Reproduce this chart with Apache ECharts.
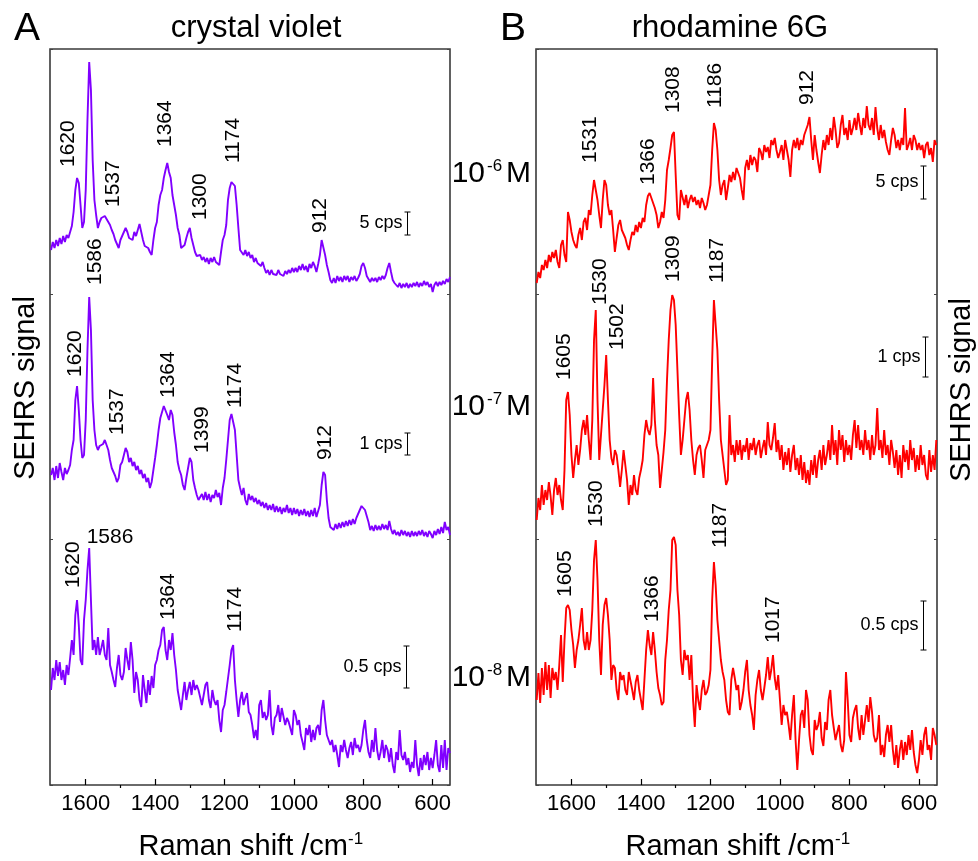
<!DOCTYPE html>
<html>
<head>
<meta charset="utf-8">
<script src="https://cdn.jsdelivr.net/npm/echarts@6/dist/echarts.min.js"></script>
<style>
  html, body { margin: 0; background: #fff; }
  #chart { width: 978px; height: 861px; }
</style>
</head>
<body>
<div id="chart"></div>
<script>
// Raman shift grid (cm-1), shared by all six spectra
const shifts = [
  1700, 1695, 1690, 1685, 1680, 1675, 1670, 1665, 1660, 1655,
  1650, 1645, 1640, 1635, 1630, 1625, 1620, 1615, 1610, 1605,
  1600, 1595, 1590, 1585, 1580, 1575, 1570, 1565, 1560, 1555,
  1550, 1545, 1540, 1535, 1530, 1525, 1520, 1515, 1510, 1505,
  1500, 1495, 1490, 1485, 1480, 1475, 1470, 1465, 1460, 1455,
  1450, 1445, 1440, 1435, 1430, 1425, 1420, 1415, 1410, 1405,
  1400, 1395, 1390, 1385, 1380, 1375, 1370, 1365, 1360, 1355,
  1350, 1345, 1340, 1335, 1330, 1325, 1320, 1315, 1310, 1305,
  1300, 1295, 1290, 1285, 1280, 1275, 1270, 1265, 1260, 1255,
  1250, 1245, 1240, 1235, 1230, 1225, 1220, 1215, 1210, 1205,
  1200, 1195, 1190, 1185, 1180, 1175, 1170, 1165, 1160, 1155,
  1150, 1145, 1140, 1135, 1130, 1125, 1120, 1115, 1110, 1105,
  1100, 1095, 1090, 1085, 1080, 1075, 1070, 1065, 1060, 1055,
  1050, 1045, 1040, 1035, 1030, 1025, 1020, 1015, 1010, 1005,
  1000, 995, 990, 985, 980, 975, 970, 965, 960, 955,
  950, 945, 940, 935, 930, 925, 920, 915, 910, 905,
  900, 895, 890, 885, 880, 875, 870, 865, 860, 855,
  850, 845, 840, 835, 830, 825, 820, 815, 810, 805,
  800, 795, 790, 785, 780, 775, 770, 765, 760, 755,
  750, 745, 740, 735, 730, 725, 720, 715, 710, 705,
  700, 695, 690, 685, 680, 675, 670, 665, 660, 655,
  650, 645, 640, 635, 630, 625, 620, 615, 610, 605,
  600, 595, 590, 585, 580, 575, 570, 565, 560, 555,
  550
];

// crystal violet, 10-6 / 10-7 / 10-8 M (arbitrary units, each above its own baseline)
const cvTop = [
  50, 58, 52, 60, 54, 62, 56, 64, 58, 65,
  62, 68, 74, 88, 110, 122, 117, 95, 72, 78,
  110, 180, 238, 210, 140, 100, 85, 72, 78, 82,
  80, 84, 86, 78, 75, 70, 66, 60, 56, 52,
  60, 64, 68, 72, 68, 62, 64, 60, 68, 64,
  70, 76, 68, 60, 54, 56, 52, 48, 45, 60,
  72, 78, 95, 105, 110, 122, 130, 137, 128, 122,
  105, 95, 85, 72, 65, 52, 50, 55, 62, 68,
  72, 62, 55, 48, 44, 42, 45, 40, 43, 38,
  42, 36, 42, 38, 43, 38, 40, 35, 48, 60,
  65, 75, 100, 112, 118, 120, 114, 95, 72, 50,
  50, 45, 50, 44, 48, 42, 45, 38, 42, 37,
  38, 34, 38, 32, 27, 30, 25, 30, 26, 28,
  25, 30, 26, 28, 24, 29, 26, 30, 27, 32,
  28, 32, 28, 34, 30, 36, 30, 34, 28, 36,
  32, 38, 34, 28, 36, 45, 60, 60, 45, 35,
  28, 20, 17, 22, 17, 24, 19, 23, 18, 24,
  20, 24, 18, 23, 20, 24, 19, 22, 26, 34,
  37, 32, 24, 21, 18, 22, 19, 22, 18, 23,
  20, 24, 21, 25, 32, 37, 28, 20, 17, 15,
  13, 17, 12, 16, 13, 17, 12, 16, 13, 17,
  14, 18, 13, 17, 14, 19, 15, 18, 13, 16,
  8, 15, 18, 14, 18, 15, 19, 16, 21, 18,
  23
];
const cvMid = [
  65, 72, 60, 74, 62, 77, 68, 60, 72, 66,
  70, 75, 90, 100, 140, 154, 130, 100, 82, 85,
  120, 190, 243, 210, 140, 110, 95, 90, 94, 92,
  96, 100, 102, 90, 80, 72, 68, 64, 58, 62,
  75, 78, 85, 92, 88, 78, 82, 74, 78, 70,
  74, 66, 70, 62, 66, 58, 62, 52, 58, 70,
  82, 95, 110, 122, 128, 134, 132, 125, 120, 130,
  125, 108, 95, 78, 70, 65, 55, 50, 62, 72,
  82, 78, 60, 52, 45, 40, 38, 46, 40, 48,
  40, 46, 38, 45, 42, 50, 43, 47, 35, 52,
  62, 80, 100, 120, 126, 126, 110, 85, 60, 52,
  45, 52, 40, 35, 46, 40, 44, 38, 42, 36,
  40, 34, 38, 32, 37, 30, 35, 30, 36, 28,
  34, 28, 33, 26, 32, 28, 35, 27, 32, 25,
  32, 26, 31, 24, 30, 25, 31, 24, 29, 23,
  30, 24, 32, 23, 22, 35, 55, 68, 65, 40,
  22, 13, 15, 10, 16, 11, 17, 12, 18, 13,
  19, 14, 20, 15, 21, 16, 22, 26, 30, 34,
  33, 30, 24, 18, 10, 14, 9, 15, 10, 14,
  10, 16, 11, 15, 10, 19, 11, 6, 10, 5,
  8, 4, 10, 5, 9, 4, 8, 3, 9, 4,
  8, 4, 9, 5, 10, 4, 8, 3, 9, 6,
  2, 9, 5, 11, 6, 13, 7, 18, 10, 13,
  5
];
const cvBot = [
  95, 117, 105, 125, 109, 123, 105, 115, 100, 120,
  110, 127, 145, 130, 170, 185, 160, 125, 120, 165,
  185, 215, 237, 185, 135, 145, 130, 148, 130, 137,
  145, 130, 125, 157, 120, 113, 105, 98, 117, 130,
  110, 105, 113, 137, 125, 115, 143, 125, 92, 113,
  105, 85, 78, 110, 95, 82, 105, 90, 109, 97,
  120, 125, 135, 140, 155, 158, 135, 125, 145, 135,
  152, 130, 115, 95, 85, 75, 90, 103, 85, 95,
  103, 90, 105, 95, 100, 95, 97, 80, 90, 100,
  103, 85, 77, 95, 85, 80, 85, 65, 53, 75,
  80, 93, 95, 120, 135, 140, 105, 85, 68, 85,
  93, 80, 87, 92, 73, 70, 60, 47, 55, 45,
  80, 85, 67, 73, 65, 70, 95, 60, 50, 67,
  70, 80, 63, 77, 75, 60, 67, 63, 65, 50,
  75, 70, 60, 65, 50, 43, 35, 57, 50, 60,
  43, 55, 45, 57, 60, 50, 75, 85, 65, 50,
  52, 40, 45, 33, 40, 30, 18, 40, 33, 45,
  35, 27, 37, 43, 30, 47, 37, 40, 33, 40,
  55, 65, 45, 33, 27, 45, 33, 57, 35, 25,
  33, 45, 27, 40, 35, 23, 37, 20, 12, 33,
  25, 55, 30, 25, 33, 20, 27, 13, 23, 17,
  45, 20, 9, 27, 15, 30, 20, 33, 15, 27,
  17, 30, 45, 20, 13, 40, 17, 45, 15, 37,
  32
];

// rhodamine 6G, 10-6 / 10-7 / 10-8 M
const r6gTop = [
  17, 28, 22, 35, 30, 40, 32, 45, 38, 48,
  42, 50, 38, 32, 55, 60, 45, 38, 88, 80,
  68, 60, 55, 52, 65, 72, 60, 78, 82, 70,
  90, 85, 105, 120, 122, 100, 85, 72, 100, 120,
  115, 95, 85, 90, 70, 48, 62, 75, 80, 70,
  70, 62, 55, 50, 60, 68, 65, 75, 68, 78,
  72, 82, 78, 95, 104, 107, 102, 100, 92, 85,
  72, 78, 88, 82, 100, 130, 140, 152, 165, 168,
  125, 85, 80, 110, 108, 95, 105, 92, 100, 105,
  98, 103, 95, 100, 92, 102, 97, 90, 95, 105,
  115, 150, 177, 170, 150, 120, 105, 115, 120, 100,
  112, 125, 118, 128, 120, 132, 130, 122, 110, 100,
  132, 140, 130, 145, 135, 143, 140, 128, 152, 148,
  140, 155, 148, 153, 142, 160, 155, 162, 150, 142,
  148, 155, 140, 160, 150, 140, 123, 150, 160, 152,
  162, 150, 160, 155, 165, 170, 175, 183, 160, 140,
  165, 150, 138, 127, 145, 160, 150, 165, 155, 172,
  160, 183, 170, 152, 157, 175, 185, 165, 172, 160,
  180, 165, 172, 182, 170, 187, 175, 165, 182, 172,
  194, 175, 170, 182, 165, 193, 172, 160, 175, 162,
  170, 158, 150, 145, 160, 172, 165, 152, 160, 150,
  162, 155, 192, 150, 155, 162, 150, 165, 160, 150,
  157, 150, 155, 142, 155, 158, 145, 152, 138, 160,
  155
];
const r6gMid = [
  20, 42, 30, 55, 35, 50, 40, 58, 44, 25,
  50, 62, 45, 55, 40, 30, 70, 140, 148, 125,
  85, 62, 80, 95, 75, 90, 110, 120, 105, 125,
  100, 80, 120, 200, 230, 140, 80, 105, 130, 155,
  185, 140, 100, 82, 75, 90, 85, 70, 53, 70,
  90, 75, 60, 35, 55, 45, 65, 50, 45, 62,
  70, 80, 105, 120, 110, 105, 115, 162, 120, 95,
  85, 52, 70, 88, 110, 160, 200, 230, 245, 240,
  215, 170, 125, 85, 100, 120, 140, 148, 130, 100,
  80, 65, 85, 92, 95, 80, 62, 90, 95, 100,
  110, 180, 240, 242, 190, 140, 100, 85, 70, 55,
  60, 125, 85, 95, 78, 100, 85, 100, 80, 95,
  88, 102, 80, 97, 90, 102, 85, 95, 100, 82,
  92, 100, 85, 118, 95, 90, 102, 117, 88, 100,
  80, 95, 70, 88, 75, 92, 68, 85, 95, 70,
  82, 65, 85, 60, 78, 57, 70, 55, 80, 65,
  85, 62, 80, 90, 70, 95, 75, 85, 100, 80,
  115, 85, 100, 75, 110, 90, 105, 78, 100, 85,
  95, 80, 105, 120, 92, 115, 90, 100, 85, 110,
  90, 100, 80, 105, 85, 95, 132, 90, 100, 82,
  110, 85, 95, 75, 100, 88, 72, 90, 65, 85,
  62, 95, 78, 90, 70, 100, 80, 92, 68, 85,
  70, 95, 75, 85, 65, 60, 90, 68, 85, 70,
  100
];
const r6gBot = [
  85, 112, 82, 117, 90, 123, 95, 120, 87, 117,
  105, 113, 95, 120, 150, 103, 145, 177, 180, 175,
  155, 140, 117, 135, 145, 160, 177, 145, 135, 153,
  135, 145, 175, 225, 245, 205, 145, 110, 160, 180,
  187, 170, 145, 105, 120, 117, 95, 85, 113, 105,
  110, 95, 90, 113, 115, 95, 85, 103, 110, 95,
  93, 75, 105, 135, 155, 140, 130, 153, 135, 113,
  97, 90, 80, 83, 125, 145, 175, 195, 245, 248,
  240, 195, 170, 125, 110, 135, 125, 130, 105, 130,
  85, 58, 100, 85, 75, 95, 105, 90, 93, 100,
  115, 185, 223, 200, 165, 145, 125, 113, 105, 85,
  73, 70, 105, 117, 107, 95, 100, 75, 83, 95,
  113, 125, 95, 80, 70, 55, 90, 105, 115, 95,
  85, 97, 110, 128, 105, 115, 130, 107, 95, 110,
  85, 60, 80, 70, 73, 60, 45, 70, 90, 45,
  15, 45, 70, 75, 57, 95, 85, 50, 35, 30,
  65, 55, 60, 73, 47, 39, 63, 55, 85, 95,
  70, 57, 45, 53, 60, 40, 33, 45, 113, 85,
  50, 43, 67, 75, 80, 57, 45, 70, 50, 65,
  80, 63, 88, 73, 50, 43, 47, 70, 30, 40,
  28, 50, 60, 43, 60, 35, 20, 40, 17, 35,
  45, 25, 43, 30, 50, 35, 55, 33, 20, 12,
  25, 45, 30, 50, 58, 35, 40, 25, 57, 50,
  40
];

// vertical offset of each trace (top, middle, bottom)
const stackOffsets = [485, 245, 0];

const majorTicks = [1600, 1400, 1200, 1000, 800, 600];
const minorTicks = [1500, 1300, 1100, 900, 700];

// peak labels: [shift, signal, text, 'h' = horizontal]
const cvPeaks = [
  [1651, 618, '1620'], [1521, 578, '1537'], [1372, 638, '1364'],
  [1271, 565, '1300'], [1176, 622, '1174'], [925, 552, '912'],
  [1573, 500, '1586'],
  [1631, 408, '1620'], [1510, 350, '1537'], [1363, 387, '1364'],
  [1265, 332, '1399'], [1170, 377, '1174'], [911, 325, '912'],
  [1637, 197, '1620'], [1530, 248, '1586', 'h'], [1363, 165, '1364'],
  [1170, 153, '1174']
];
const r6gPeaks = [
  [1546, 622, '1531'], [1379, 600, '1366'], [1307, 672, '1308'],
  [1186, 677, '1186'], [921, 680, '912'],
  [1621, 405, '1605'], [1518, 480, '1530'], [1469, 435, '1502'],
  [1307, 503, '1309'], [1180, 502, '1187'],
  [1618, 188, '1605'], [1529, 258, '1530'], [1368, 163, '1366'],
  [1172, 237, '1187'], [1019, 142, '1017']
];

// scale bars: [shift, low, high, text]
const cvBars = [[674, 550, 573, '5 cps'], [674, 330, 352, '1 cps'], [676, 97, 139, '0.5 cps']];
const r6gBars = [[587, 586, 619, '5 cps'], [582, 408, 448, '1 cps'], [587, 135, 184, '0.5 cps']];

const FONT = '"Liberation Sans", Arial, sans-serif';
const PURPLE = '#8000ff';
const RED = '#ff0000';

var chartDom = document.getElementById('chart');
var myChart = echarts.init(chartDom, null, { renderer: 'canvas' });

function xAxes(gridIndex, min, max) {
  return [
    {
      type: 'value', gridIndex: gridIndex, inverse: true, min: min, max: max,
      axisLine: { show: false },
      splitLine: { show: false },
      axisTick: { inside: true, length: 6, customValues: majorTicks, lineStyle: { color: '#000', width: 1.2 } },
      axisLabel: {
        customValues: majorTicks, color: '#000', fontSize: 22, fontFamily: FONT, margin: 8,
        formatter: function (v) { return String(v); }
      }
    },
    {
      type: 'value', gridIndex: gridIndex, inverse: true, min: min, max: max,
      axisLine: { show: false },
      splitLine: { show: false },
      axisTick: { inside: true, length: 3, customValues: minorTicks, lineStyle: { color: '#000', width: 1.2 } },
      axisLabel: { show: false }
    }
  ];
}

function yAxes(gridIndex) {
  return ['left', 'right'].map(function (pos) {
    return {
      type: 'value', gridIndex: gridIndex, position: pos, min: 0, max: 736, interval: 736 / 3,
      axisLine: { show: false },
      splitLine: { show: false },
      axisTick: { show: true, inside: true, length: 3, lineStyle: { color: '#444' } },
      axisLabel: { show: false }
    };
  });
}

function traces(list, color, xi, yi) {
  return list.map(function (vals, k) {
    return {
      type: 'line', xAxisIndex: xi, yAxisIndex: yi,
      data: shifts.map(function (s, i) { return [s, vals[i] + stackOffsets[k]]; }),
      showSymbol: false, silent: true,
      lineStyle: { color: color, width: 1.9 }
    };
  });
}

function peakSeries(labels, xi, yi) {
  return {
    type: 'custom', xAxisIndex: xi, yAxisIndex: yi, z: 5, silent: true, clip: false,
    data: labels.map(function (l) { return [l[0], l[1]]; }),
    encode: { x: 0, y: 1 },
    renderItem: function (params, api) {
      var p = api.coord([api.value(0), api.value(1)]);
      var lab = labels[params.dataIndex];
      var flat = lab[3] === 'h';
      return {
        type: 'text', x: p[0], y: p[1], rotation: flat ? 0 : Math.PI / 2,
        style: {
          text: lab[2], fill: '#000', font: '21px ' + FONT,
          align: flat ? 'center' : 'left', verticalAlign: 'middle'
        }
      };
    }
  };
}

function barSeries(bars, xi, yi) {
  return {
    type: 'custom', xAxisIndex: xi, yAxisIndex: yi, z: 5, silent: true, clip: false,
    data: bars.map(function (b) { return [b[0], b[1], b[2]]; }),
    encode: { x: 0, y: [1, 2] },
    renderItem: function (params, api) {
      var lo = api.coord([api.value(0), api.value(1)]);
      var hi = api.coord([api.value(0), api.value(2)]);
      var x = Math.round(lo[0]) + 0.5;
      var st = { stroke: '#000', lineWidth: 1 };
      return {
        type: 'group',
        children: [
          { type: 'line', shape: { x1: x, y1: lo[1], x2: x, y2: hi[1] }, style: st },
          { type: 'line', shape: { x1: x - 3, y1: lo[1], x2: x + 3, y2: lo[1] }, style: st },
          { type: 'line', shape: { x1: x - 3, y1: hi[1], x2: x + 3, y2: hi[1] }, style: st },
          {
            type: 'text', x: x - 5, y: (lo[1] + hi[1]) / 2,
            style: { text: bars[params.dataIndex][3], fill: '#000', font: '18px ' + FONT, align: 'right', verticalAlign: 'middle' }
          }
        ]
      };
    }
  };
}

function txt(x, y, s, size, align, rot) {
  return {
    type: 'text', x: x, y: y, rotation: rot || 0, silent: true,
    style: { text: s, fill: '#000', font: size + 'px ' + FONT, align: align || 'center', verticalAlign: 'middle' }
  };
}

// concentration labels 10^-n M
var concRows = [[174, '-6'], [407, '-7'], [678, '-8']];
var graphics = [
  txt(27, 29, 'A', 39), txt(513, 29, 'B', 39),
  txt(256, 28, 'crystal violet', 31), txt(730, 28, 'rhodamine 6G', 31),
  txt(26, 388, 'SEHRS signal', 29, 'center', Math.PI / 2),
  txt(962, 390, 'SEHRS signal', 29, 'center', Math.PI / 2),
  txt(348, 847, 'Raman shift /cm', 29, 'right'), txt(348, 839, '-1', 17, 'left'),
  txt(835, 847, 'Raman shift /cm', 29, 'right'), txt(835, 839, '-1', 17, 'left')
];
concRows.forEach(function (r) {
  graphics.push(txt(485, r[0], '10', 30, 'right'));
  graphics.push(txt(487, r[0] - 8, r[1], 17, 'left'));
  graphics.push(txt(506, r[0], 'M', 30, 'left'));
});

var option = {
  backgroundColor: '#fff',
  animation: false,
  grid: [
    { left: 50, top: 49, width: 400, height: 736, show: true, borderColor: '#3a3a3a', borderWidth: 1.6, backgroundColor: 'transparent' },
    { left: 536, top: 49, width: 401, height: 736, show: true, borderColor: '#3a3a3a', borderWidth: 1.6, backgroundColor: 'transparent' }
  ],
  xAxis: xAxes(0, 550, 1703).concat(xAxes(1, 548, 1702)),
  yAxis: yAxes(0).concat(yAxes(1)),
  series: traces([cvTop, cvMid, cvBot], PURPLE, 0, 0)
    .concat(traces([r6gTop, r6gMid, r6gBot], RED, 2, 2))
    .concat([
      peakSeries(cvPeaks, 0, 0), barSeries(cvBars, 0, 0),
      peakSeries(r6gPeaks, 2, 2), barSeries(r6gBars, 2, 2)
    ]),
  graphic: graphics
};

myChart.setOption(option);
</script>
</body>
</html>
